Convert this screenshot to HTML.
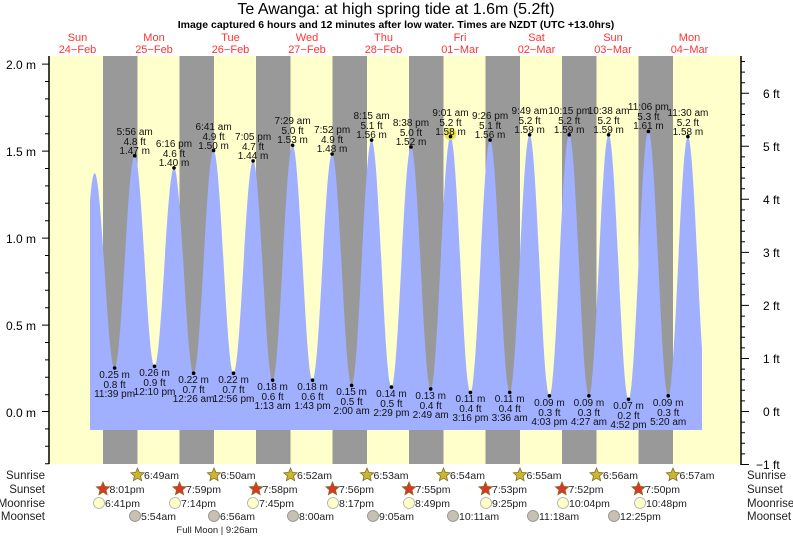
<!DOCTYPE html>
<html><head><meta charset="utf-8"><style>
html,body{margin:0;padding:0;background:#fff}
svg{display:block;font-family:"Liberation Sans",sans-serif}
</style></head><body>
<svg width="793" height="537" viewBox="0 0 793 537" xmlns="http://www.w3.org/2000/svg" xmlns:xlink="http://www.w3.org/1999/xlink">
<defs>
<clipPath id="cp"><rect x="90" y="0" width="612" height="430"/></clipPath>
<polygon id="st" points="0,-7 1.88,-2.59 6.66,-2.16 3.04,0.99 4.11,5.66 0,3.2 -4.11,5.66 -3.04,0.99 -6.66,-2.16 -1.88,-2.59" stroke="#8a6a20" stroke-width="0.8"/>
</defs>
<rect x="49" y="56" width="692" height="408" fill="#ffffcc"/>
<g fill="#999999">
<rect x="103" y="56" width="34.5" height="408"/>
<rect x="179.5" y="56" width="34.5" height="408"/>
<rect x="256" y="56" width="34.5" height="408"/>
<rect x="332.5" y="56" width="34.5" height="408"/>
<rect x="409" y="56" width="34.5" height="408"/>
<rect x="485.5" y="56" width="34.5" height="408"/>
<rect x="562" y="56" width="34.5" height="408"/>
<rect x="638.5" y="56" width="34.5" height="408"/>
</g>
<path clip-path="url(#cp)" fill="#a0b0ff" d="M74.6 430 L74.6 394.1
C81.9 394.1 87.3 173.1 94.6 173.1
C101.9 173.1 107.3 368.0 114.6 368.0
C121.9 368.0 127.4 155.7 134.7 155.7
C141.9 155.7 147.3 366.3 154.5 366.3
C161.6 366.3 166.9 167.9 174 167.9
C181.1 167.9 186.5 373.2 193.6 373.2
C200.9 373.2 206.3 150.5 213.6 150.5
C220.8 150.5 226.3 373.2 233.5 373.2
C240.6 373.2 246.0 160.9 253.1 160.9
C260.2 160.9 265.5 380.2 272.6 380.2
C279.9 380.2 285.3 145.3 292.6 145.3
C299.8 145.3 305.3 380.2 312.5 380.2
C319.6 380.2 325.0 154.0 332.1 154.0
C339.2 154.0 344.5 385.4 351.6 385.4
C358.9 385.4 364.3 140.1 371.6 140.1
C378.8 140.1 384.2 387.1 391.4 387.1
C398.5 387.1 403.9 147.0 411 147.0
C418.2 147.0 423.5 388.9 430.7 388.9
C437.9 388.9 443.3 136.6 450.5 136.6
C457.7 136.6 463.2 392.4 470.4 392.4
C477.6 392.4 482.9 140.1 490.1 140.1
C497.2 140.1 502.6 392.4 509.7 392.4
C516.9 392.4 522.4 134.8 529.6 134.8
C536.8 134.8 542.2 395.8 549.4 395.8
C556.6 395.8 562.0 134.8 569.2 134.8
C576.4 134.8 581.7 395.8 588.9 395.8
C596.1 395.8 601.4 134.8 608.6 134.8
C615.8 134.8 621.3 399.3 628.5 399.3
C635.7 399.3 641.2 131.4 648.4 131.4
C655.6 131.4 661.0 395.8 668.2 395.8
C675.4 395.8 680.7 136.6 687.9 136.6
C695.0 136.6 700.4 395.8 707.5 395.8
L707.5 430 Z"/>
<g stroke="#000" stroke-width="1.5"><line x1="49" y1="56" x2="49" y2="464"/><line x1="741" y1="56" x2="741" y2="465"/></g>
<path stroke="#000" stroke-width="1" fill="none" d="M42 64.1H49 M45 81.5H49 M45 98.9H49 M45 116.3H49 M45 133.7H49 M42 151.1H49 M45 168.5H49 M45 185.9H49 M45 203.3H49 M45 220.7H49 M42 238.1H49 M45 255.5H49 M45 272.9H49 M45 290.3H49 M45 307.7H49 M42 325.1H49 M45 342.5H49 M45 359.9H49 M45 377.3H49 M45 394.7H49 M42 411.5H49 M45 428.9H49 M45 446.3H49 M45 463.7H49"/>
<path stroke="#000" stroke-width="1" fill="none" d="M741 464.5H749 M741 453.9H745 M741 443.3H745 M741 432.7H745 M741 422.1H745 M741 411.5H749 M741 400.9H745 M741 390.3H745 M741 379.7H745 M741 369.1H745 M741 358.5H749 M741 347.9H745 M741 337.3H745 M741 326.7H745 M741 316.1H745 M741 305.4H749 M741 294.8H745 M741 284.2H745 M741 273.6H745 M741 263.0H745 M741 252.4H749 M741 241.8H745 M741 231.2H745 M741 220.6H745 M741 210.0H745 M741 199.3H749 M741 188.7H745 M741 178.1H745 M741 167.5H745 M741 156.9H745 M741 146.3H749 M741 135.7H745 M741 125.1H745 M741 114.5H745 M741 103.9H745 M741 93.3H749 M741 82.7H745 M741 72.1H745 M741 61.5H745"/>
<text x="396" y="14" font-size="16" text-anchor="middle">Te Awanga: at high  spring tide at 1.6m (5.2ft)</text>
<text x="396" y="28" font-size="10.5" font-weight="bold" text-anchor="middle">Image captured 6 hours and 12 minutes after low water. Times are NZDT (UTC +13.0hrs)</text>
<g font-size="11" fill="#ff3333" text-anchor="middle">
<text x="77.5" y="41">Sun</text><text x="77.5" y="53">24−Feb</text>
<text x="154" y="41">Mon</text><text x="154" y="53">25−Feb</text>
<text x="230.5" y="41">Tue</text><text x="230.5" y="53">26−Feb</text>
<text x="307" y="41">Wed</text><text x="307" y="53">27−Feb</text>
<text x="383.5" y="41">Thu</text><text x="383.5" y="53">28−Feb</text>
<text x="460" y="41">Fri</text><text x="460" y="53">01−Mar</text>
<text x="536.5" y="41">Sat</text><text x="536.5" y="53">02−Mar</text>
<text x="613" y="41">Sun</text><text x="613" y="53">03−Mar</text>
<text x="689.5" y="41">Mon</text><text x="689.5" y="53">04−Mar</text>
</g>
<g font-size="12" text-anchor="end">
<text x="36" y="69">2.0 m</text><text x="36" y="156">1.5 m</text><text x="36" y="243">1.0 m</text><text x="36" y="330">0.5 m</text><text x="36" y="417">0.0 m</text>
</g>
<g font-size="12">
<text x="763" y="98">6 ft</text><text x="763" y="151">5 ft</text><text x="763" y="204">4 ft</text><text x="763" y="257">3 ft</text><text x="763" y="310">2 ft</text><text x="763" y="363">1 ft</text><text x="763" y="416">0 ft</text><text x="756" y="469">−1 ft</text>
</g>
<circle cx="450.5" cy="134" r="6" fill="#e8e040" opacity="0.9"/>
<g fill="#000">
<circle cx="134.7" cy="155.7" r="1.8"/><circle cx="174" cy="167.9" r="1.8"/><circle cx="213.6" cy="150.5" r="1.8"/><circle cx="253.1" cy="160.9" r="1.8"/><circle cx="292.6" cy="145.3" r="1.8"/><circle cx="332.1" cy="154" r="1.8"/><circle cx="371.6" cy="140.1" r="1.8"/><circle cx="411" cy="147" r="1.8"/><circle cx="450.5" cy="136.6" r="1.8"/><circle cx="490.1" cy="140.1" r="1.8"/><circle cx="529.6" cy="134.8" r="1.8"/><circle cx="569.2" cy="134.8" r="1.8"/><circle cx="608.6" cy="134.8" r="1.8"/><circle cx="648.4" cy="131.4" r="1.8"/><circle cx="687.9" cy="136.6" r="1.8"/>
<circle cx="114.6" cy="368" r="1.8"/><circle cx="154.5" cy="366.3" r="1.8"/><circle cx="193.6" cy="373.2" r="1.8"/><circle cx="233.5" cy="373.2" r="1.8"/><circle cx="272.6" cy="380.2" r="1.8"/><circle cx="312.5" cy="380.2" r="1.8"/><circle cx="351.6" cy="385.4" r="1.8"/><circle cx="391.4" cy="387.1" r="1.8"/><circle cx="430.7" cy="388.9" r="1.8"/><circle cx="470.4" cy="392.4" r="1.8"/><circle cx="509.7" cy="392.4" r="1.8"/><circle cx="549.4" cy="395.8" r="1.8"/><circle cx="588.9" cy="395.8" r="1.8"/><circle cx="628.5" cy="399.3" r="1.8"/><circle cx="668.2" cy="395.8" r="1.8"/>
</g>
<g font-size="10" text-anchor="middle" fill="#111">
<text x="134.7" y="135">5:56 am</text><text x="134.7" y="145">4.8 ft</text><text x="134.7" y="154">1.47 m</text>
<text x="174" y="147">6:16 pm</text><text x="174" y="157">4.6 ft</text><text x="174" y="166">1.40 m</text>
<text x="213.6" y="130">6:41 am</text><text x="213.6" y="140">4.9 ft</text><text x="213.6" y="149">1.50 m</text>
<text x="253.1" y="140">7:05 pm</text><text x="253.1" y="150">4.7 ft</text><text x="253.1" y="159">1.44 m</text>
<text x="292.6" y="124">7:29 am</text><text x="292.6" y="134">5.0 ft</text><text x="292.6" y="143">1.53 m</text>
<text x="332.1" y="133">7:52 pm</text><text x="332.1" y="143">4.9 ft</text><text x="332.1" y="152">1.48 m</text>
<text x="371.6" y="119">8:15 am</text><text x="371.6" y="129">5.1 ft</text><text x="371.6" y="138">1.56 m</text>
<text x="411" y="126">8:38 pm</text><text x="411" y="136">5.0 ft</text><text x="411" y="145">1.52 m</text>
<text x="450.5" y="116">9:01 am</text><text x="450.5" y="126">5.2 ft</text><text x="450.5" y="135">1.58 m</text>
<text x="490.1" y="119">9:26 pm</text><text x="490.1" y="129">5.1 ft</text><text x="490.1" y="138">1.56 m</text>
<text x="529.6" y="114">9:49 am</text><text x="529.6" y="124">5.2 ft</text><text x="529.6" y="133">1.59 m</text>
<text x="569.2" y="114">10:15 pm</text><text x="569.2" y="124">5.2 ft</text><text x="569.2" y="133">1.59 m</text>
<text x="608.6" y="114">10:38 am</text><text x="608.6" y="124">5.2 ft</text><text x="608.6" y="133">1.59 m</text>
<text x="648.4" y="110">11:06 pm</text><text x="648.4" y="120">5.3 ft</text><text x="648.4" y="129">1.61 m</text>
<text x="687.9" y="116">11:30 am</text><text x="687.9" y="126">5.2 ft</text><text x="687.9" y="135">1.58 m</text>
<text x="114.6" y="378">0.25 m</text><text x="114.6" y="388">0.8 ft</text><text x="114.6" y="397">11:39 pm</text>
<text x="154.5" y="376">0.26 m</text><text x="154.5" y="386">0.9 ft</text><text x="154.5" y="395">12:10 pm</text>
<text x="193.6" y="383">0.22 m</text><text x="193.6" y="393">0.7 ft</text><text x="193.6" y="402">12:26 am</text>
<text x="233.5" y="383">0.22 m</text><text x="233.5" y="393">0.7 ft</text><text x="233.5" y="402">12:56 pm</text>
<text x="272.6" y="390">0.18 m</text><text x="272.6" y="400">0.6 ft</text><text x="272.6" y="409">1:13 am</text>
<text x="312.5" y="390">0.18 m</text><text x="312.5" y="400">0.6 ft</text><text x="312.5" y="409">1:43 pm</text>
<text x="351.6" y="395">0.15 m</text><text x="351.6" y="405">0.5 ft</text><text x="351.6" y="414">2:00 am</text>
<text x="391.4" y="397">0.14 m</text><text x="391.4" y="407">0.5 ft</text><text x="391.4" y="416">2:29 pm</text>
<text x="430.7" y="399">0.13 m</text><text x="430.7" y="409">0.4 ft</text><text x="430.7" y="418">2:49 am</text>
<text x="470.4" y="402">0.11 m</text><text x="470.4" y="412">0.4 ft</text><text x="470.4" y="421">3:16 pm</text>
<text x="509.7" y="402">0.11 m</text><text x="509.7" y="412">0.4 ft</text><text x="509.7" y="421">3:36 am</text>
<text x="549.4" y="406">0.09 m</text><text x="549.4" y="416">0.3 ft</text><text x="549.4" y="425">4:03 pm</text>
<text x="588.9" y="406">0.09 m</text><text x="588.9" y="416">0.3 ft</text><text x="588.9" y="425">4:27 am</text>
<text x="628.5" y="409">0.07 m</text><text x="628.5" y="419">0.2 ft</text><text x="628.5" y="428">4:52 pm</text>
<text x="668.2" y="406">0.09 m</text><text x="668.2" y="416">0.3 ft</text><text x="668.2" y="425">5:20 am</text>
</g>
<g font-size="11.5" fill="#222">
<text x="45" y="479" text-anchor="end">Sunrise</text><text x="45" y="493" text-anchor="end">Sunset</text><text x="45" y="507" text-anchor="end">Moonrise</text><text x="45" y="520" text-anchor="end">Moonset</text>
<text x="747" y="479">Sunrise</text><text x="747" y="493">Sunset</text><text x="747" y="507">Moonrise</text><text x="747" y="520">Moonset</text>
</g>
<g fill="#c8b830">
<use xlink:href="#st" x="137.5" y="475"/><use xlink:href="#st" x="214" y="475"/><use xlink:href="#st" x="290.5" y="475"/><use xlink:href="#st" x="367" y="475"/><use xlink:href="#st" x="443.5" y="475"/><use xlink:href="#st" x="520" y="475"/><use xlink:href="#st" x="596.5" y="475"/><use xlink:href="#st" x="673" y="475"/>
</g>
<g fill="#d83828">
<use xlink:href="#st" x="103" y="489"/><use xlink:href="#st" x="179.5" y="489"/><use xlink:href="#st" x="256" y="489"/><use xlink:href="#st" x="332.5" y="489"/><use xlink:href="#st" x="409" y="489"/><use xlink:href="#st" x="485.5" y="489"/><use xlink:href="#st" x="562" y="489"/><use xlink:href="#st" x="638.5" y="489"/>
</g>
<g fill="#ffffc8" stroke="#aaa" stroke-width="0.8">
<circle cx="99" cy="503" r="5.5"/><circle cx="175" cy="503" r="5.5"/><circle cx="253" cy="503" r="5.5"/><circle cx="333" cy="503" r="5.5"/><circle cx="409" cy="503" r="5.5"/><circle cx="486" cy="503" r="5.5"/><circle cx="563" cy="503" r="5.5"/><circle cx="640" cy="503" r="5.5"/>
</g>
<g fill="#c8c0b0" stroke="#888" stroke-width="0.8">
<circle cx="135" cy="516" r="5.5"/><circle cx="214" cy="516" r="5.5"/><circle cx="293" cy="516" r="5.5"/><circle cx="373" cy="516" r="5.5"/><circle cx="453" cy="516" r="5.5"/><circle cx="533" cy="516" r="5.5"/><circle cx="614" cy="516" r="5.5"/>
</g>
<g font-size="10.5" fill="#222">
<text x="144" y="479">6:49am</text><text x="220.5" y="479">6:50am</text><text x="297" y="479">6:52am</text><text x="373.5" y="479">6:53am</text><text x="450" y="479">6:54am</text><text x="526.5" y="479">6:55am</text><text x="603" y="479">6:56am</text><text x="679.5" y="479">6:57am</text>
<text x="109.5" y="493">8:01pm</text><text x="186" y="493">7:59pm</text><text x="262.5" y="493">7:58pm</text><text x="339" y="493">7:56pm</text><text x="415.5" y="493">7:55pm</text><text x="492" y="493">7:53pm</text><text x="568.5" y="493">7:52pm</text><text x="645" y="493">7:50pm</text>
<text x="105" y="507">6:41pm</text><text x="181" y="507">7:14pm</text><text x="259" y="507">7:45pm</text><text x="339" y="507">8:17pm</text><text x="415" y="507">8:49pm</text><text x="492" y="507">9:25pm</text><text x="569" y="507">10:04pm</text><text x="646" y="507">10:48pm</text>
<text x="141" y="520">5:54am</text><text x="220" y="520">6:56am</text><text x="299" y="520">8:00am</text><text x="379" y="520">9:05am</text><text x="459" y="520">10:11am</text><text x="539" y="520">11:18am</text><text x="620" y="520">12:25pm</text>
<text x="217" y="533" text-anchor="middle" font-size="9.5">Full Moon | 9:26am</text>
</g>
</svg>
</body></html>
